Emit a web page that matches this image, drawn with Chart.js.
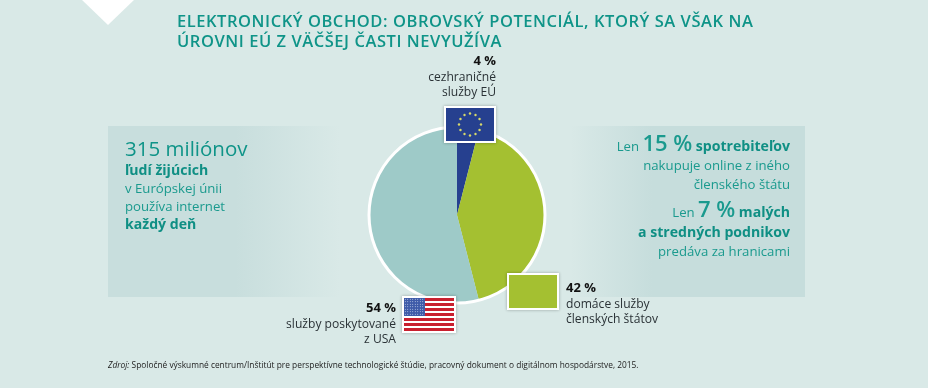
<!DOCTYPE html>
<html lang="sk">
<head>
<meta charset="UTF-8">
<title>Elektronický obchod</title>
<script src="https://cdn.jsdelivr.net/npm/chart.js"></script>
<style>
  html, body { margin: 0; padding: 0; }
  body { width: 928px; height: 388px; overflow: hidden; position: relative; background: #d9e9e7; font-family: "Open Sans", sans-serif; color: #1f2a2e; }
  .abs { position: absolute; white-space: nowrap; }
  #tri { left: 82px; top: 0; width: 0; height: 0; border-left: 26px solid transparent; border-right: 26px solid transparent; border-top: 25px solid #fff; }
  #panelL { left: 108px; top: 126px; width: 232px; height: 171px; background: linear-gradient(90deg, #c8dedd 0%, #c8dedd 55%, #d9e9e7 100%); }
  #panelR { left: 570px; top: 126px; width: 235px; height: 171px; background: linear-gradient(90deg, #d9e9e7 0%, #c6dddc 35%, #c6dddc 100%); }
  canvas { position: absolute; left: 0; top: 0; }
  #title { left: 177px; top: 11px; font-size: 16.5px; line-height: 19.5px; color: #0f9488; font-weight: 600; letter-spacing: .55px; }
  .teal { color: #1a9a8e; font-size: 13.2px; line-height: 18px; }
  b { font-weight: 700; color: #0f8f84; font-size: 14.1px; }
  .big { font-size: 22px; font-weight: 600; }
  .lab { font-size: 12.1px; line-height: 15.5px; color: #2a3236; }
  .lab b { color: #111; font-size: 13px; }
  .r { text-align: right; }
  #green { left: 507px; top: 273px; width: 48px; height: 33px; background: #a4c031; border: 2px solid #fff; box-shadow: 0 0 3px rgba(0,0,0,.3); }
  #eu { left: 444px; top: 106px; width: 48px; height: 33px; background: #26408f; border: 2px solid #fff; box-shadow: 0 0 3px rgba(0,0,0,.3); }
  #us { left: 402px; top: 296px; width: 50px; height: 33px; border: 2px solid #fff; box-shadow: 0 0 3px rgba(0,0,0,.3);
        background: repeating-linear-gradient(180deg, #c8202f 0, #c8202f 2.54px, #fff 2.54px, #fff 5.08px); }
  #canton { position: absolute; left: 0; top: 0; width: 21px; height: 18px; background-color: #3d5aa8; background-image: radial-gradient(#dfe6f5 0.6px, transparent 0.8px); background-size: 2.5px 2.5px; }
  #source { left: 108px; top: 359px; font-size: 8.35px; color: #222; }
</style>
</head>
<body>
<div class="abs" id="tri"></div>
<div class="abs" id="panelL"></div>
<div class="abs" id="panelR"></div>
<canvas id="pie" width="928" height="388"></canvas>

<div class="abs" id="title">ELEKTRONICKÝ OBCHOD: OBROVSKÝ POTENCIÁL, KTORÝ SA VŠAK NA<br>ÚROVNI EÚ Z VÄČŠEJ ČASTI NEVYUŽÍVA</div>

<div class="abs teal" style="left:125px;top:135px;font-size:20.5px;line-height:26px;color:#0f9488;">315 miliónov</div>
<div class="abs teal" style="left:125px;top:161px;"><b>ľudí žijúcich</b><br>v Európskej únii<br>používa internet<br><b>každý deň</b></div>

<div class="abs teal r" style="right:138px;top:130px;line-height:24px;">Len <span class="big">15 %</span> <b>spotrebiteľov</b></div>
<div class="abs teal r" style="right:138px;top:156px;line-height:18.5px;">nakupuje online z iného<br>členského štátu</div>
<div class="abs teal r" style="right:138px;top:196px;line-height:24px;">Len <span class="big">7 %</span> <b>malých</b></div>
<div class="abs teal r" style="right:138px;top:223px;line-height:18.5px;"><b>a stredných podnikov</b><br>predáva za hranicami</div>

<div class="abs lab r" style="right:432px;top:53px;"><b>4 %</b><br>cezhraničné<br>služby EÚ</div>
<div class="abs lab" style="left:566px;top:280px;"><b>42 %</b><br>domáce služby<br>členských štátov</div>
<div class="abs lab r" style="right:532px;top:300px;"><b>54 %</b><br>služby poskytované<br>z USA</div>

<div class="abs" id="green"></div>
<div class="abs" id="eu"><svg id="stars" width="48" height="33"></svg></div>
<div class="abs" id="us"><div id="canton"></div></div>

<div class="abs" id="source"><i>Zdroj:</i> Spoločné výskumné centrum/Inštitút pre perspektívne technologické štúdie, pracovný dokument o digitálnom hospodárstve, 2015.</div>

<script>
  const categories = ['cezhraničné služby EÚ', 'domáce služby členských štátov', 'služby poskytované z USA'];
  const shares = [4, 42, 54];
  const sliceColors = ['#26408f', '#a4c031', '#9ecac8'];

  // 12 stars on the EU flag
  const svg = document.getElementById('stars');
  let dots = '';
  for (let i = 0; i < 12; i++) {
    const a = i * Math.PI / 6;
    dots += `<circle cx="${24 + 11 * Math.sin(a)}" cy="${16.5 - 11 * Math.cos(a)}" r="1.2" fill="#d8d86a"/>`;
  }
  svg.innerHTML = dots;

  // white ring round the pie only, no separators between slices
  const ring = {
    id: 'ring',
    afterDatasetsDraw(chart) {
      const arc = chart.getDatasetMeta(0).data[0];
      const ctx = chart.ctx;
      ctx.save();
      ctx.strokeStyle = '#fff';
      ctx.lineWidth = 3;
      ctx.beginPath();
      ctx.arc(arc.x, arc.y, arc.outerRadius, 0, Math.PI * 2);
      ctx.stroke();
      ctx.restore();
    }
  };

  new Chart(document.getElementById('pie'), {
    type: 'pie',
    data: {
      labels: categories,
      datasets: [{ data: shares, backgroundColor: sliceColors, borderWidth: 0 }]
    },
    options: {
      responsive: false,
      animation: false,
      radius: 88,
      layout: { padding: { top: 42, right: 14 } },
      plugins: { legend: { display: false }, tooltip: { enabled: false } }
    },
    plugins: [ring]
  });
</script>
</body>
</html>
